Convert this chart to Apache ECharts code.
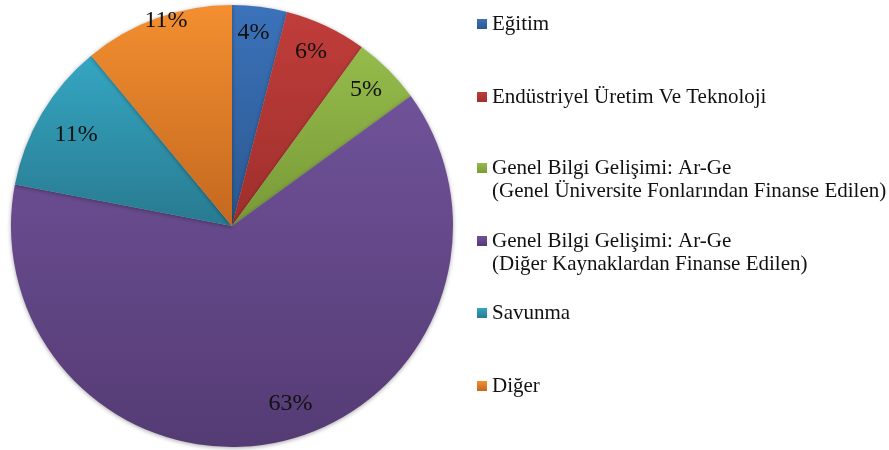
<!DOCTYPE html>
<html lang="tr">
<head>
  <meta charset="UTF-8">
  <title>Ar-Ge harcamaları</title>
  <script src="https://cdn.jsdelivr.net/npm/echarts@6/dist/echarts.min.js"></script>
  <style>
    html, body { margin: 0; padding: 0; background: #fff; }
    #chart { width: 889px; height: 450px; }
  </style>
</head>
<body>
  <div id="chart"></div>
  <script>
    // dilimler (saat 12'den saat yönünde)
    const categories = [
      'Eğitim',
      'Endüstriyel Üretim Ve Teknoloji',
      'Genel Bilgi Gelişimi: Ar-Ge\n(Genel Üniversite Fonlarından Finanse Edilen)',
      'Genel Bilgi Gelişimi: Ar-Ge\n(Diğer Kaynaklardan Finanse Edilen)',
      'Savunma',
      'Diğer'
    ];
    const shares = [4, 6, 5, 63, 11, 11];

    // üst / alt renkler (dikey gradyan)
    const topColors = ['#3b72ba', '#c03d3a', '#95bb4b', '#6f5299', '#35a6c2', '#f38f30'];
    const bottomColors = ['#2b5890', '#9e2f2c', '#789a37', '#553b74', '#287a90', '#c4681f'];
    const legendTops = [24, 97, 168, 241, 313, 386];
    // yuzde etiketlerinin ince ayari (px)
    const labelOffsets = [[-3, 0], [-4, 2], [-4, 2], [16, -13], [12, 8], [0, -22]];

    const font = 'Liberation Serif';
    const center = [232, 226];

    const pieData = categories.map((name, i) => ({
      name: name,
      value: shares[i],
      itemStyle: {
        color: new echarts.graphic.LinearGradient(0, 0, 0, 1, [
          { offset: 0, color: topColors[i] },
          { offset: 1, color: bottomColors[i] }
        ])
      }
    }));

    // etiketler icin seffaf halka
    const labelData = categories.map((name, i) => ({
      name: name,
      value: shares[i],
      label: { offset: labelOffsets[i] }
    }));

    // her lejant kalemi ayri; iki satirlilarda bos bir ilk satir,
    // boylece kare ilk metin satirinin hizasinda kalir
    const legends = categories.map((name, i) => {
      const twoLines = name.indexOf('\n') >= 0;
      return {
        data: [name],
        left: 477,
        top: legendTops[i] - (twoLines ? 34.5 : 11.5),
        padding: 0,
        icon: 'rect',
        itemWidth: 10,
        itemHeight: 10,
        selectedMode: false,
        formatter: n => (twoLines ? '\n' + n : n),
        textStyle: {
          fontFamily: font,
          fontSize: 21,
          lineHeight: 23,
          color: '#111'
        }
      };
    });

    const chart = echarts.init(document.getElementById('chart'));
    chart.setOption({
      animation: false,
      backgroundColor: '#fff',
      legend: legends,
      series: [
        {
          type: 'pie',
          center: center,
          radius: 221,
          startAngle: 90,
          clockwise: true,
          silent: true,
          label: { show: false },
          labelLine: { show: false },
          itemStyle: {
            borderWidth: 0,
            shadowBlur: 4,
            shadowColor: 'rgba(0,0,0,0.35)',
            shadowOffsetY: 1
          },
          data: pieData
        },
        {
          type: 'pie',
          center: center,
          radius: [172, 212],
          startAngle: 90,
          clockwise: true,
          silent: true,
          itemStyle: { color: 'rgba(0,0,0,0)' },
          label: {
            show: true,
            position: 'inside',
            formatter: '{c}%',
            fontFamily: font,
            fontSize: 24,
            color: '#111'
          },
          labelLine: { show: false },
          data: labelData
        }
      ]
    });
  </script>
</body>
</html>
